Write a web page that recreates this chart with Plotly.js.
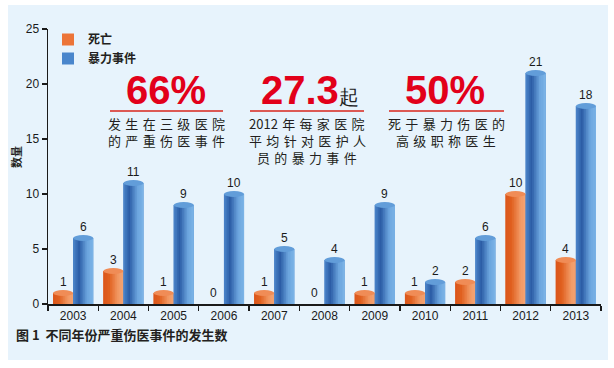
<!DOCTYPE html>
<html><head><meta charset="utf-8">
<script src="https://cdn.plot.ly/plotly-3.0.1.min.js"></script>
<style>
body{margin:0;background:#ffffff;}
#chart{position:absolute;left:8px;top:5px;width:600px;height:355px;}
</style>
</head><body><div id="chart"></div>
<script>
// ---- data ----
const years = ['2003','2004','2005','2006','2007','2008','2009','2010','2011','2012','2013'];
const deaths = [1,3,1,0,1,0,1,1,2,10,4];
const violence = [6,11,9,10,5,4,9,2,6,21,18];
const seriesNames = ['死亡','暴力事件'];
const yTitle = '数量';
const caption = '图 1&nbsp;&nbsp;不同年份严重伤医事件的发生数';
const highlights = [
  {big:'66%', small:'', lines:['发生在三级医院','的严重伤医事件']},
  {big:'27.3', small:'起', lines:['2012 年每家医院','平均针对医护人','员的暴力事件']},
  {big:'50%', small:'', lines:['死于暴力伤医的','高级职称医生']}
];

// ---- styling helpers ----
const NUM_FONT = 'Arial, "Liberation Sans", sans-serif';
const CJK_FONT = '"Noto Sans CJK SC", "Noto Sans", sans-serif';
const SP = '\u2004';
const spaced = s => s.replace(/ /g,'').split('').join(SP).replace(/(\d)\u2004(?=\d)/g,'$1');
const BAR_W = 0.4;
const NSTRIP = 12;
function hex2rgb(h){return [parseInt(h.slice(1,3),16),parseInt(h.slice(3,5),16),parseInt(h.slice(5,7),16)];}
function grad(stops,t){
  for(let i=0;i<stops.length-1;i++){
    const [t0,c0]=stops[i],[t1,c1]=stops[i+1];
    if(t<=t1){const f=(t-t0)/(t1-t0);const a=hex2rgb(c0),b=hex2rgb(c1);
      return 'rgb('+a.map((v,j)=>Math.round(v+(b[j]-v)*f)).join(',')+')';}
  }
  return stops[stops.length-1][1];
}
const series = [
  {name:seriesNames[0], values:deaths, offset:-BAR_W, base:'#ec7438', top:'#f08c56',
   stops:[[0,'#da561c'],[0.3,'#e0601f'],[0.75,'#f29a66'],[1,'#f3a373']]},
  {name:seriesNames[1], values:violence, offset:0, base:'#4a86cc', top:'#629dd9',
   stops:[[0,'#4d86cb'],[0.3,'#2b5ca5'],[0.7,'#6ba5de'],[1,'#7db5e7']]}
];

const traces=[], shapes=[], annotations=[];
series.forEach(s=>{
  traces.push({type:'bar', x:years, y:s.values, name:s.name, offset:s.offset, width:BAR_W,
    marker:{color:s.base, line:{width:0}}, hoverinfo:'x+y+name'});
  const w = BAR_W/NSTRIP;
  for(let k=0;k<NSTRIP;k++){
    traces.push({type:'bar', x:years, y:s.values, showlegend:false, hoverinfo:'skip',
      offset:s.offset+k*w, width:(k<NSTRIP-1? w*1.3 : w),
      marker:{color:grad(s.stops,(k+0.5)/NSTRIP), line:{width:0}}});
  }
  s.values.forEach((v,i)=>{
    if(v>0){
      shapes.push({type:'circle', xref:'x', yref:'y', x0:i+s.offset, x1:i+s.offset+BAR_W,
        y0:v-0.27, y1:v+0.27, fillcolor:s.top, line:{width:0}, layer:'above'});
    }
    annotations.push({xref:'x', yref:'y', x:i+s.offset+BAR_W/2, y:v, yshift:11,
      text:String(v), showarrow:false, yanchor:'middle',
      font:{family:NUM_FONT, size:12, color:'#1a1a1a'}});
  });
});

// page-pixel -> paper helpers (plot area: x 48..601, y 29..304 on the page)
const px = X => (X-48)/553, py = Y => (304-Y)/275;

const hl = [
  {cx:166, bigY:90, ul:[110,223], linesX:166},
  {cx:310, bigY:90, ul:[250,364], linesX:307},
  {cx:445, bigY:90, ul:[389,504], linesX:446}
];
highlights.forEach((h,j)=>{
  const g = hl[j];
  let t = h.big;
  if(h.small) t += '<span style="font-size:20px;color:#222222;font-weight:normal">'+h.small+'</span>';
  annotations.push({xref:'paper', yref:'paper', x:px(g.cx), y:py(g.bigY), text:t, showarrow:false,
    xanchor:'center', yanchor:'middle', font:{family:NUM_FONT, size:40, color:'#e2001a', weight:'bold'}});
  shapes.push({type:'line', xref:'paper', yref:'paper', x0:px(g.ul[0]), x1:px(g.ul[1]),
    y0:py(111), y1:py(111), line:{color:'#d8261c', width:1.5}});
  h.lines.forEach((ln,k)=>{
    annotations.push({xref:'paper', yref:'paper', x:px(g.linesX), y:py(123+17*k), text:spaced(ln),
      showarrow:false, xanchor:'center', yanchor:'middle', align:'center', borderpad:0,
      font:{family:CJK_FONT, size:13, color:'#231f20'}});
  });
});

annotations.push({xref:'paper', yref:'paper', x:px(16), y:py(157), text:yTitle, textangle:-90,
  showarrow:false, xanchor:'center', yanchor:'middle',
  font:{family:CJK_FONT, size:11, color:'#231f20', weight:'bold'}});
annotations.push({xref:'paper', yref:'paper', x:px(14), y:py(334), text:caption,
  showarrow:false, xanchor:'left', yanchor:'middle',
  font:{family:CJK_FONT, size:13, color:'#231f20', weight:'bold'}});

const layout = {
  width:600, height:355,
  margin:{l:40, r:7, t:24, b:56},
  paper_bgcolor:'#e7f3fc', plot_bgcolor:'rgba(0,0,0,0)',
  barmode:'overlay',
  showlegend:true,
  legend:{x:px(48), y:py(25), xanchor:'left', yanchor:'top', bgcolor:'rgba(0,0,0,0)',
    font:{family:CJK_FONT, size:12, color:'#231f20', weight:'bold'}, tracegroupgap:0, itemwidth:30},
  xaxis:{type:'category', range:[-0.5,10.5], tickson:'boundaries', ticks:'outside', ticklen:5,
    tickcolor:'#1a1a1a', tickwidth:1.3, showline:true, linecolor:'#1a1a1a', linewidth:1.5,
    showgrid:false, zeroline:false, fixedrange:true,
    tickfont:{family:NUM_FONT, size:12, color:'#1a1a1a'}},
  yaxis:{range:[0,25], dtick:5, ticks:'outside', ticklen:5, tickcolor:'#1a1a1a', tickwidth:1.3,
    showline:true, linecolor:'#1a1a1a', linewidth:1.5, showgrid:false, zeroline:false,
    tickfont:{family:NUM_FONT, size:12, color:'#1a1a1a'}},
  shapes:shapes, annotations:annotations
};
Plotly.newPlot('chart', traces, layout, {displayModeBar:false, staticPlot:true});
</script>
</body></html>
